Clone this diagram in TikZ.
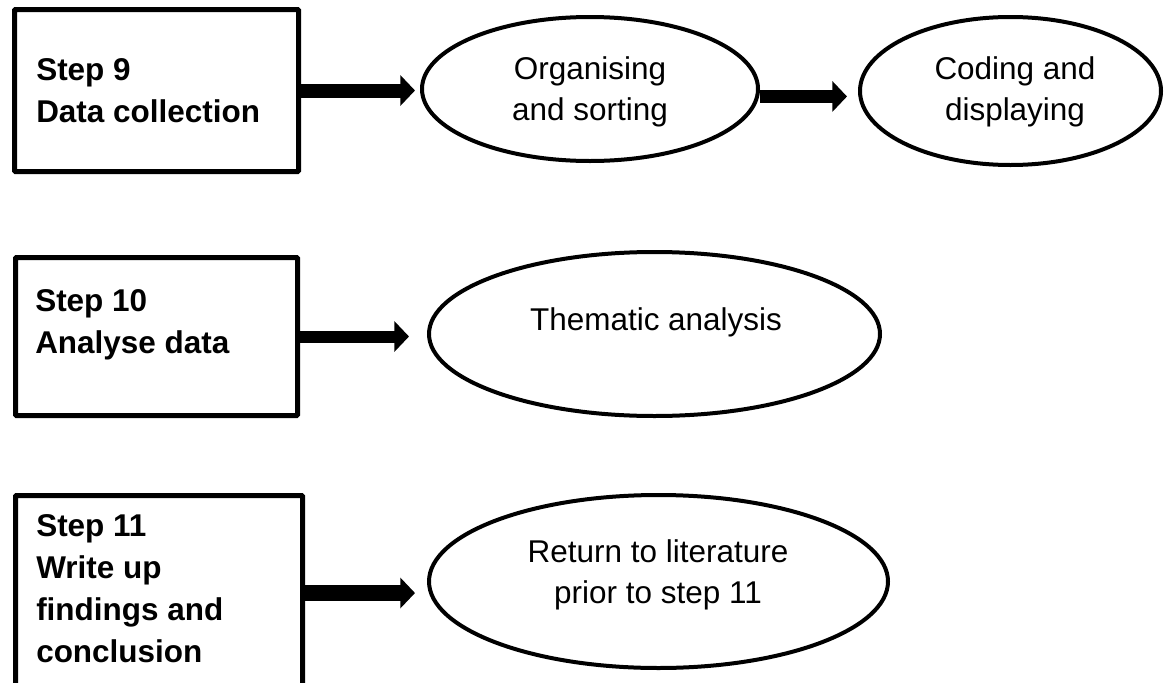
\documentclass[tikz,border=0pt]{standalone}
\usepackage{fontspec}
\setmainfont{Liberation Sans}
\usetikzlibrary{arrows.meta,shapes.geometric}
\tikzset{
  stepbox/.style={draw, rectangle, line width=3.75pt, outer sep=1.875pt,
    inner sep=0pt, rounded corners=0.6pt},
  oval/.style={draw, ellipse, line width=3pt, outer sep=1.5pt, inner sep=0pt},
  % labels are placed by the baseline of their last line
  boxtext/.style={anchor=base west, align=left, inner sep=0pt,
    font=\fontsize{23.6pt}{31.5pt}\bfseries\selectfont},
  ovaltext/.style={anchor=base, align=center, inner sep=0pt,
    font=\fontsize{23.6pt}{30.5pt}\selectfont},
  thickarrow/.style={line width=#1, -{Triangle[length=11pt,width=22.5pt]}},
  thickarrow/.default=10.5pt,
}
\begin{document}
\begin{tikzpicture}[x=0.75pt, y=-0.75pt]
  \useasboundingbox (0,0) rectangle (1164,682);
  \clip (0,0) rectangle (1164,682);

  % step boxes
  \node[stepbox, minimum width=213pt, minimum height=121.5pt] (b1) at (156.5,90.5) {};
  \node[stepbox, minimum width=211.5pt, minimum height=118.5pt] (b2) at (156.5,336.5) {};
  \node[stepbox, minimum width=215.25pt, minimum height=146.25pt] (b3) at (159,593) {};

  % process ovals
  \node[oval, minimum width=252pt, minimum height=108pt] (e1) at (590,89) {};
  \node[oval, minimum width=225.75pt, minimum height=111pt] (e2) at (1010.5,91) {};
  \node[oval, minimum width=338.25pt, minimum height=123pt] (e3) at (654.5,334) {};
  \node[oval, minimum width=344.25pt, minimum height=129.75pt] (e4) at (658.5,581.5) {};

  % connectors
  \draw[thickarrow=10.5pt, shorten >=3.75pt] (b1.east) -- (b1.east -| e1.west);
  \coordinate (a2) at ([yshift=-5.6pt]e1.east);
  \draw[thickarrow=9.75pt, shorten >=8.25pt] (a2) -- (a2 -| e2.west);
  \draw[thickarrow=9pt, shorten >=13.5pt] (b2.east) -- (b2.east -| e3.west);
  \draw[thickarrow=12pt, shorten >=9pt] (b3.east) -- (b3.east -| e4.west);

  % labels
  \node[boxtext] (t1) at (36,122) {Step 9\\Data collection};
  \node[boxtext] (t2) at (35,353) {Step 10\\Analyse data};
  \node[boxtext] (t3) at (36,662) {Step 11\\Write up\\findings and\\conclusion};
  \node[ovaltext] (s1) at (590,120) {Organising\\and sorting};
  \node[ovaltext] (s2) at (1015,120) {Coding and\\displaying};
  \node[ovaltext] (s3) at (656,330) {Thematic analysis};
  \node[ovaltext] (s4) at (658,603) {Return to literature\\prior to step 11};
\end{tikzpicture}
\end{document}
